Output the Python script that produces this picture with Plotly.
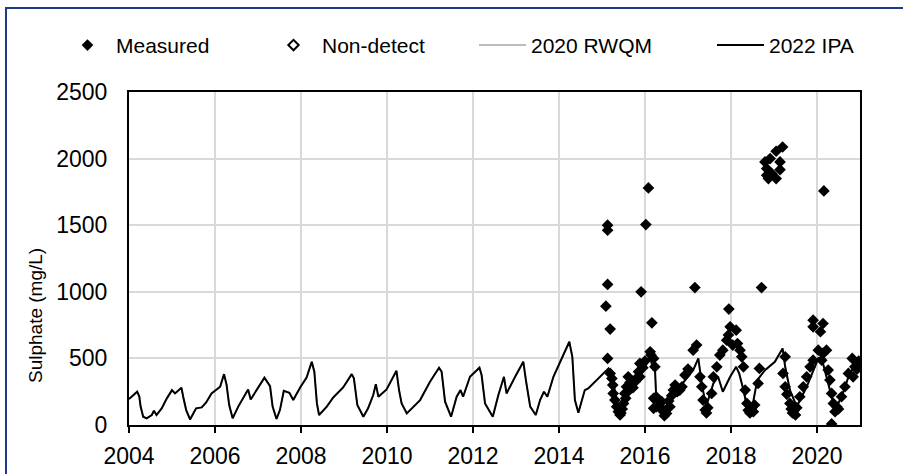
import plotly.graph_objects as go

# 2022 IPA modelled series (decimal year, mg/L)
ipa_year = [2004.00, 2004.19, 2004.24, 2004.27, 2004.33, 2004.41, 2004.53, 2004.58, 2004.64, 2004.76,
            2004.88, 2005.00, 2005.07, 2005.22, 2005.26, 2005.33, 2005.42, 2005.56, 2005.69, 2005.79,
            2005.92, 2006.12, 2006.21, 2006.27, 2006.33, 2006.41, 2006.54, 2006.66, 2006.77, 2006.83,
            2006.97, 2007.15, 2007.28, 2007.34, 2007.43, 2007.51, 2007.60, 2007.73, 2007.82, 2007.98,
            2008.13, 2008.25, 2008.31, 2008.37, 2008.42, 2008.60, 2008.75, 2008.98, 2009.18, 2009.23,
            2009.31, 2009.45, 2009.56, 2009.68, 2009.74, 2009.80, 2009.99, 2010.22, 2010.28, 2010.34,
            2010.46, 2010.61, 2010.77, 2011.00, 2011.21, 2011.27, 2011.35, 2011.49, 2011.62, 2011.71,
            2011.77, 2011.93, 2012.15, 2012.20, 2012.28, 2012.46, 2012.59, 2012.72, 2012.78, 2012.98,
            2013.17, 2013.23, 2013.33, 2013.46, 2013.56, 2013.65, 2013.73, 2013.87, 2014.06, 2014.24,
            2014.31, 2014.37, 2014.45, 2014.60, 2014.68, 2014.92, 2015.15, 2015.23, 2015.42, 2015.62,
            2015.88, 2016.12, 2016.19, 2016.23, 2016.26, 2016.39, 2016.58, 2016.81, 2017.12, 2017.24,
            2017.32, 2017.42, 2017.59, 2017.70, 2017.81, 2017.98, 2018.12, 2018.19, 2018.29, 2018.37,
            2018.51, 2018.61, 2018.79, 2019.02, 2019.20, 2019.26, 2019.37, 2019.53, 2019.76, 2020.03,
            2020.14, 2020.30, 2020.42, 2020.57, 2020.76, 2021.00]
ipa_value = [195, 250, 213, 138, 62, 50, 75, 107, 75, 125,
             200, 262, 237, 280, 212, 112, 42, 125, 132, 167,
             237, 287, 382, 300, 150, 50, 138, 207, 267, 192,
             267, 355, 292, 138, 45, 112, 257, 242, 187, 282,
             357, 475, 400, 162, 75, 138, 207, 282, 382, 350,
             150, 62, 125, 225, 307, 212, 267, 407, 262, 162,
             87, 138, 187, 325, 430, 400, 175, 62, 212, 262,
             212, 362, 430, 375, 162, 62, 225, 362, 237, 362,
             475, 337, 138, 75, 187, 250, 212, 362, 500, 625,
             512, 187, 92, 262, 275, 350, 425, 362, 75, 250,
             362, 512, 412, 437, 212, 100, 187, 287, 412, 500,
             312, 138, 312, 362, 250, 362, 437, 387, 262, 138,
             162, 337, 412, 475, 575, 437, 262, 138, 287, 500,
             462, 262, 112, 212, 387, 500]

# 2020 RWQM series (lies beneath the 2022 IPA line)
rwqm_year = list(ipa_year)
rwqm_value = list(ipa_value)

# Measured samples
meas_year = [2015.13, 2015.13, 2015.13, 2015.13, 2015.09, 2015.19, 2015.19, 2015.23, 2015.25, 2015.26,
             2015.30, 2015.34, 2015.38, 2015.42, 2015.44, 2015.47, 2015.50, 2015.53, 2015.55, 2015.57,
             2015.60, 2015.61, 2015.65, 2015.69, 2015.72, 2015.77, 2015.80, 2015.85, 2015.88, 2015.88,
             2015.91, 2015.95, 2016.00, 2016.02, 2016.08, 2016.12, 2016.16, 2016.20, 2016.20, 2016.20,
             2016.14, 2016.23, 2016.26, 2016.27, 2016.35, 2016.39, 2016.43, 2016.45, 2016.50, 2016.55,
             2016.58, 2016.62, 2016.66, 2016.70, 2016.75, 2016.81, 2016.86, 2016.93, 2017.00, 2017.12,
             2017.16, 2017.20, 2017.28, 2017.32, 2017.35, 2017.40, 2017.43, 2017.46, 2017.55, 2017.59,
             2017.67, 2017.74, 2017.81, 2017.90, 2017.94, 2017.95, 2017.98, 2018.04, 2018.12, 2018.15,
             2018.21, 2018.25, 2018.29, 2018.33, 2018.37, 2018.40, 2018.44, 2018.48, 2018.52, 2018.55,
             2018.63, 2018.66, 2018.71, 2018.79, 2018.83, 2018.83, 2018.87, 2018.91, 2018.95, 2019.05,
             2019.05, 2019.14, 2019.14, 2019.20, 2019.21, 2019.26, 2019.26, 2019.30, 2019.37, 2019.40,
             2019.43, 2019.47, 2019.50, 2019.53, 2019.60, 2019.68, 2019.76, 2019.84, 2019.91, 2019.91,
             2019.91, 2020.03, 2020.08, 2020.11, 2020.14, 2020.14, 2020.16, 2020.22, 2020.26, 2020.30,
             2020.34, 2020.34, 2020.38, 2020.42, 2020.46, 2020.50, 2020.57, 2020.65, 2020.73, 2020.82,
             2020.84, 2020.88, 2020.93, 2020.97]
meas_value = [1500, 1462, 1055, 500, 892, 720, 387, 350, 300, 237,
              187, 137, 100, 75, 90, 120, 162, 237, 200, 287,
              250, 362, 320, 300, 280, 325, 350, 400, 362, 462,
              1000, 430, 480, 1505, 1780, 550, 767, 200, 125, 500,
              525, 437, 212, 137, 137, 175, 100, 70, 87, 180,
              137, 220, 262, 300, 250, 262, 287, 375, 420, 562,
              1032, 600, 362, 287, 187, 112, 90, 130, 237, 362,
              437, 525, 562, 637, 675, 870, 737, 600, 712, 612,
              562, 512, 437, 262, 162, 110, 90, 130, 100, 150,
              312, 425, 1032, 1975, 1925, 1875, 1850, 2000, 1887, 2055,
              1850, 1975, 1917, 2087, 387, 512, 287, 230, 162, 120,
              90, 110, 75, 130, 212, 287, 362, 437, 487, 787,
              737, 562, 700, 487, 762, 537, 1757, 562, 412, 337,
              237, 8, 162, 100, 137, 120, 212, 287, 387, 500,
              362, 437, 420, 480]

# Non-detect samples (none in the plotted period)
nd_year = []
nd_value = []

x_ticks = [2004, 2006, 2008, 2010, 2012, 2014, 2016, 2018, 2020]
y_ticks = [0, 500, 1000, 1500, 2000, 2500]
y_title = "Sulphate (mg/L)"

FONT = "Liberation Sans, Arial, sans-serif"
PLOT_L, PLOT_W, PLOT_B, PLOT_H = 129, 731, 425, 333


def px_to_paper(px):
    return (px - PLOT_L) / PLOT_W


def py_to_paper(py):
    return (PLOT_B - py) / PLOT_H


fig = go.Figure()
fig.add_trace(go.Scatter(x=rwqm_year, y=rwqm_value, mode="lines", name="2020 RWQM",
                         line=dict(color="#a6a6a6", width=1.5), legend="legend3"))
fig.add_trace(go.Scatter(x=ipa_year, y=ipa_value, mode="lines", name="2022 IPA",
                         line=dict(color="black", width=2), legend="legend4"))
fig.add_trace(go.Scatter(x=meas_year, y=meas_value, mode="markers", name="Measured",
                         marker=dict(symbol="diamond", size=9, color="black"), legend="legend"))
fig.add_trace(go.Scatter(x=nd_year if nd_year else [None], y=nd_value if nd_value else [None],
                         mode="markers", name="Non-detect",
                         marker=dict(symbol="diamond-open", size=8, color="black",
                                     line=dict(width=2, color="black")), legend="legend2"))

leg_common = dict(orientation="h", y=1.14, yanchor="middle", xanchor="left",
                  font=dict(size=21, family=FONT, color="black"), itemwidth=47,
                  bgcolor="rgba(0,0,0,0)", borderwidth=0)

fig.update_layout(
    width=903, height=474,
    margin=dict(l=129, r=43, t=92, b=49, autoexpand=False),
    paper_bgcolor="white", plot_bgcolor="white",
    font=dict(family=FONT, size=21, color="black"),
    showlegend=True,
    legend=dict(x=px_to_paper(59), **leg_common),
    legend2=dict(x=px_to_paper(265), **leg_common),
    legend3=dict(x=px_to_paper(474), **leg_common),
    legend4=dict(x=px_to_paper(712), **leg_common),
    xaxis=dict(range=[2004, 2021], tickvals=x_ticks, ticktext=[str(v) for v in x_ticks],
               showgrid=True, gridcolor="#d9d9d9", gridwidth=1.5, automargin=False,
               showline=True, linecolor="black", linewidth=2, mirror=True,
               ticks="outside", ticklen=6, tickwidth=2, tickcolor="black",
               tickfont=dict(size=23), ticklabelstandoff=3, zeroline=False),
    yaxis=dict(range=[0, 2500], tickvals=y_ticks, ticktext=[str(v) for v in y_ticks],
               showgrid=True, gridcolor="#d9d9d9", gridwidth=1.5, automargin=False,
               showline=True, linecolor="black", linewidth=2, mirror=True,
               ticks="", tickfont=dict(size=23), ticklabelstandoff=15,
               zeroline=False),
    annotations=[dict(text=y_title, xref="paper", yref="paper",
                      x=px_to_paper(35), y=py_to_paper(316), xanchor="center", yanchor="middle",
                      textangle=-90, showarrow=False, font=dict(size=19, family=FONT, color="black"))],
    shapes=[dict(type="rect", xref="paper", yref="paper",
                 x0=px_to_paper(6), x1=1.3, y0=-0.3, y1=py_to_paper(8),
                 line=dict(color="#1f3a8a", width=2), fillcolor="rgba(0,0,0,0)",
                 layer="below")],
)

fig.write_html("out.html", config={"displayModeBar": False},
               post_script="document.body.style.margin='0px';")
